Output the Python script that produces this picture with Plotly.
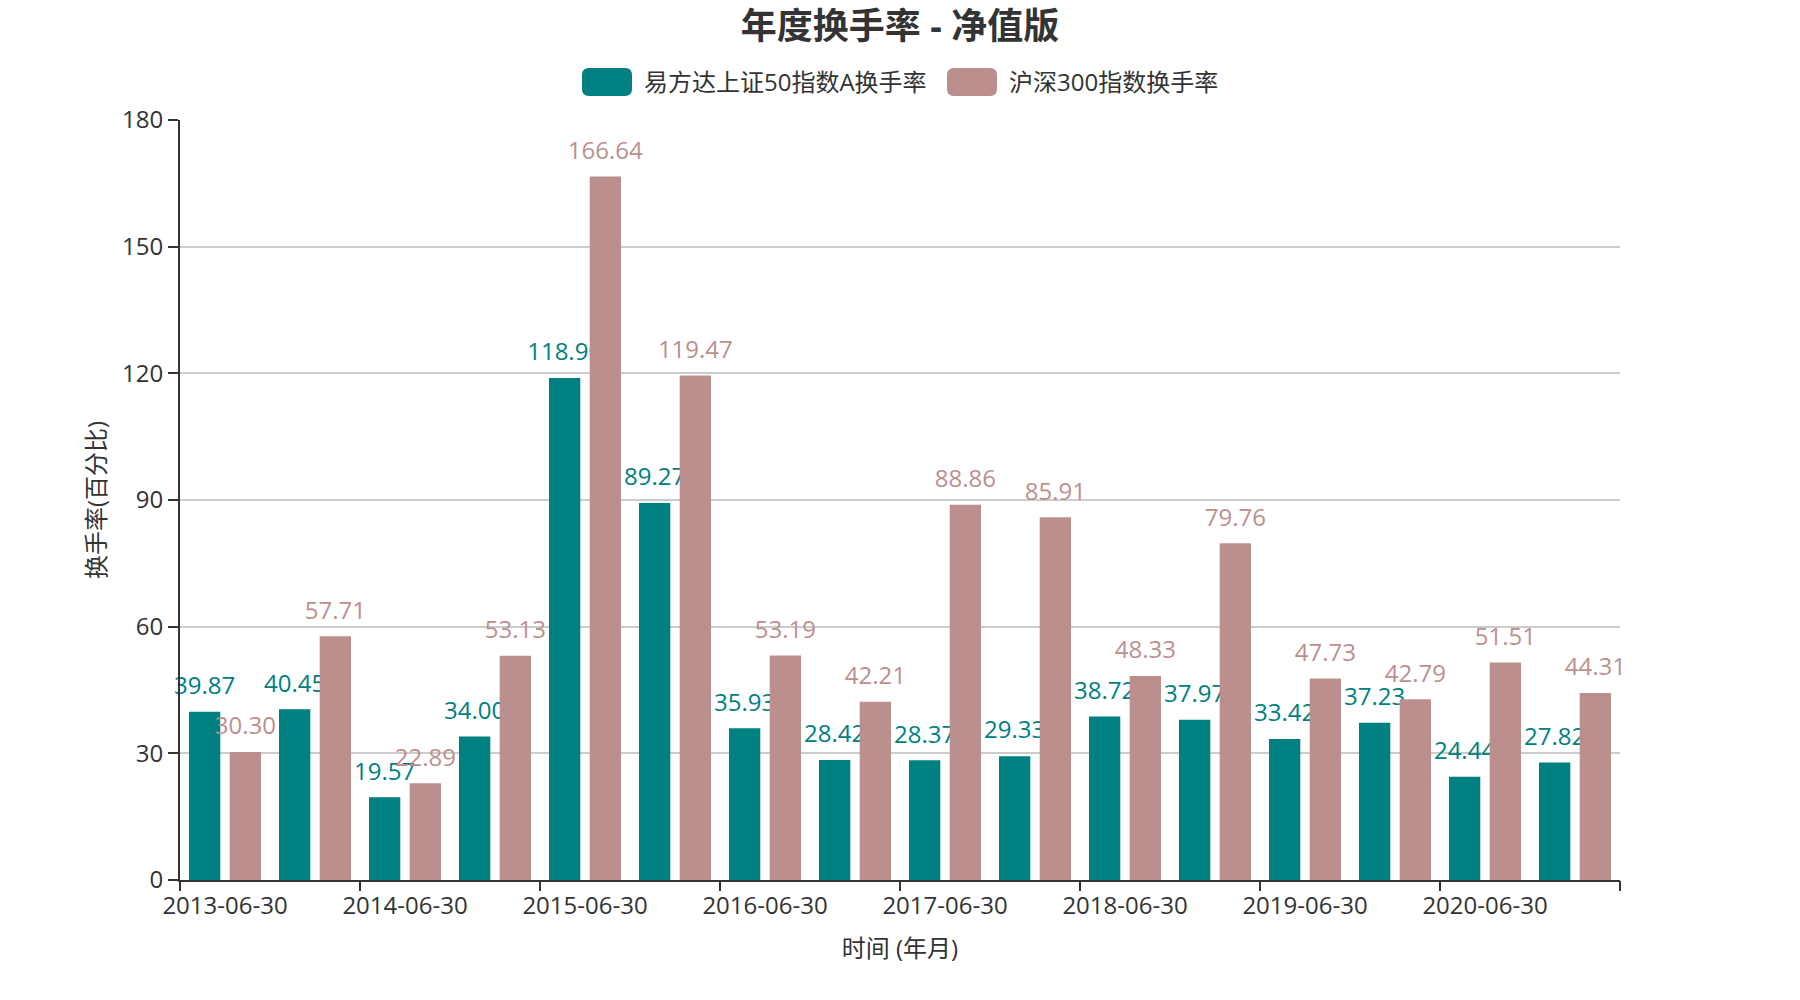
import plotly.graph_objects as go

categories = ["2013-06-30", "2013-12-31", "2014-06-30", "2014-12-31",
              "2015-06-30", "2015-12-31", "2016-06-30", "2016-12-31",
              "2017-06-30", "2017-12-31", "2018-06-30", "2018-12-31",
              "2019-06-30", "2019-12-31", "2020-06-30", "2020-12-31"]
fund_turnover = [39.87, 40.45, 19.57, 34.00, 118.90, 89.27, 35.93, 28.42,
                 28.37, 29.33, 38.72, 37.97, 33.42, 37.23, 24.44, 27.82]
index_turnover = [30.30, 57.71, 22.89, 53.13, 166.64, 119.47, 53.19, 42.21,
                  88.86, 85.91, 48.33, 79.76, 47.73, 42.79, 51.51, 44.31]
series_names = ["易方达上证50指数A换手率", "沪深300指数换手率"]
series_colors = ["#008080", "#BC8F8F"]
tick_labels = categories[::2]
y_ticks = [0, 30, 60, 90, 120, 150, 180]

FONT = "Open Sans, Noto Sans CJK SC, sans-serif"
W, H = 1800, 1000
ML, MR, MT, MB = 180, 180, 120, 120
PW, PH = W - ML - MR, H - MT - MB


def px2paper(x, y):
    return (x - ML) / PW, (H - MB - y) / PH


def rrect_path(x0, y0, x1, y1, r):
    def p(x, y):
        a, b = px2paper(x, y)
        return f"{a:.6f},{b:.6f}"
    return (f"M {p(x0 + r, y0)} L {p(x1 - r, y0)} Q {p(x1, y0)} {p(x1, y0 + r)} "
            f"L {p(x1, y1 - r)} Q {p(x1, y1)} {p(x1 - r, y1)} "
            f"L {p(x0 + r, y1)} Q {p(x0, y1)} {p(x0, y1 - r)} "
            f"L {p(x0, y0 + r)} Q {p(x0, y0)} {p(x0 + r, y0)} Z")


fig = go.Figure()
for name, vals, col in zip(series_names, [fund_turnover, index_turnover], series_colors):
    fig.add_trace(go.Bar(
        x=categories, y=vals, name=name,
        marker=dict(color=col, line=dict(width=0)),
        # small base font + blank second line lifts the label like ECharts' label distance
        texttemplate="<span style='font-size:24px'>%{y:.2f}</span><br>&nbsp;",
        textposition="outside",
        textfont=dict(family=FONT, size=9, color=col),
        constraintext="none", cliponaxis=False,
        showlegend=False, hoverinfo="x+y+name",
    ))

# invisible helper trace so the boundary-tick axis is drawn
fig.add_trace(go.Scatter(x=[], y=[], xaxis="x2", yaxis="y", showlegend=False,
                         hoverinfo="skip"))

# custom legend (ECharts style round-rect icons)
legend_items = [(582, 642), (947, 1007)]
shapes = []
annotations = []
for (rx, tx), name, col in zip(legend_items, series_names, series_colors):
    shapes.append(dict(type="path", xref="paper", yref="paper",
                       path=rrect_path(rx, 68, rx + 50, 96, 7),
                       fillcolor=col, line=dict(width=0)))
    ax, ay = px2paper(tx, 82)
    annotations.append(dict(text=name, xref="paper", yref="paper", x=ax, y=ay,
                            xanchor="left", yanchor="middle", showarrow=False,
                            font=dict(family=FONT, size=24, color="#333333")))

boundary_ticks = [i - 0.5 for i in range(0, len(categories), 2)] + [len(categories) - 0.5]

fig.update_layout(
    width=W, height=H, autosize=False,
    margin=dict(l=ML, r=MR, t=MT, b=MB, pad=0),
    paper_bgcolor="white", plot_bgcolor="white",
    font=dict(family=FONT, size=24, color="#333333"),
    title=dict(text="年度换手率 - 净值版", x=0.5, xanchor="center",
               y=1 - 26 / H, yref="container", yanchor="middle",
               font=dict(family=FONT, size=36, color="#333333", weight="bold")),
    barmode="group", bargap=0.0956, bargroupgap=0.231,
    shapes=shapes, annotations=annotations,
    xaxis=dict(type="category", range=[-0.5, len(categories) - 0.5],
               tickmode="array", tickvals=tick_labels, ticktext=tick_labels,
               tickangle=0, ticks="", ticklen=10, ticklabelstandoff=3,
               showline=True, linecolor="#333333", linewidth=2,
               showgrid=False, zeroline=False, automargin=False,
               tickfont=dict(family=FONT, size=24, color="#333333"),
               title=dict(text="时间 (年月)", standoff=20,
                          font=dict(family=FONT, size=24, color="#333333"))),
    xaxis2=dict(type="linear", overlaying="x", anchor="y", side="bottom",
                range=[-0.5, len(categories) - 0.5],
                tickmode="array", tickvals=boundary_ticks,
                showticklabels=False, ticks="outside", ticklen=10, tickwidth=2,
                tickcolor="#333333", showline=False, showgrid=False,
                zeroline=False, automargin=False),
    yaxis=dict(range=[0, 180], tickmode="array", tickvals=y_ticks,
               ticks="outside", ticklen=10, tickwidth=2, tickcolor="#333333",
               showline=True, linecolor="#333333", linewidth=2,
               showgrid=True, gridcolor="#cccccc", gridwidth=2, zeroline=False,
               automargin=False,
               tickfont=dict(family=FONT, size=24, color="#333333"),
               title=dict(text="换手率(百分比)", standoff=10,
                          font=dict(family=FONT, size=24, color="#333333"))),
)

fig.write_html("out.html", config={"displayModeBar": False},
               post_script="document.body.style.margin='0';")
